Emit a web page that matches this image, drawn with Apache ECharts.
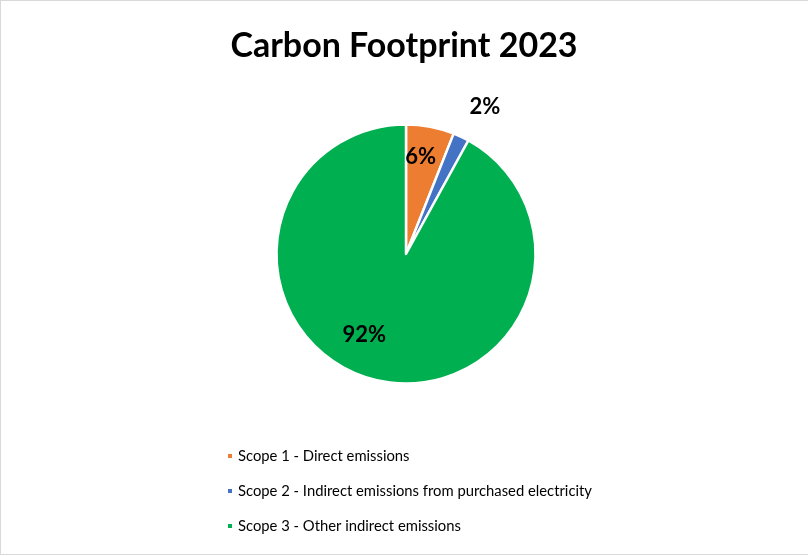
<!DOCTYPE html>
<html>
<head>
<meta charset="utf-8">
<script src="https://cdn.jsdelivr.net/npm/echarts@6/dist/echarts.min.js"></script>
<style>
  html, body { margin: 0; padding: 0; background: #fff; overflow: hidden; }
  #chart { width: 808px; height: 556px; position: absolute; left: 0; top: 0; }
  #frame { position: absolute; left: 0; top: 0; width: 812px; height: 555px; box-sizing: border-box; border: 1px solid #d9d9d9; pointer-events: none; }
</style>
</head>
<body>
<div id="chart"></div>
<div id="frame"></div>
<script>
// Emission shares by scope (percent of total)
const categories = [
  'Scope 1 - Direct emissions',
  'Scope 2 - Indirect emissions from purchased electricity',
  'Scope 3 - Other indirect emissions'
];
const shares = [6, 2, 92];
const colors = ['#ED7D31', '#4472C4', '#00B050'];
// label nudges so the percentages sit where they read best
const labelOffsets = [[2, -31], [50, -86], [-25, 15]];

const FONT = 'Lato, "Open Sans", sans-serif';

const chart = echarts.init(document.getElementById('chart'), null, { renderer: 'canvas' });

const data = categories.map((name, i) => ({
  name: name,
  value: shares[i],
  itemStyle: { color: colors[i] },
  label: { offset: labelOffsets[i] }
}));

chart.setOption({
  animation: false,
  backgroundColor: '#ffffff',
  title: {
    text: 'Carbon Footprint 2023',
    left: 'center',
    top: 24,
    textStyle: { fontFamily: FONT, fontWeight: 'bold', fontSize: 34, color: '#000' }
  },
  legend: {
    orient: 'vertical',
    left: 221,
    top: 443,
    icon: 'rect',
    itemWidth: 6,
    itemHeight: 6,
    itemGap: 19,
    textStyle: { fontFamily: FONT, fontSize: 14.8, color: '#000', lineHeight: 16 },
    data: categories
  },
  series: [{
    type: 'pie',
    center: [406, 254],
    radius: [0, 129.5],
    startAngle: 90,
    clockwise: true,
    silent: true,
    itemStyle: { borderColor: '#ffffff', borderWidth: 2.5 },
    label: {
      show: true,
      position: 'inside',
      formatter: '{c}%',
      fontFamily: FONT,
      fontWeight: 'bold',
      fontSize: 22,
      color: '#000'
    },
    labelLine: { show: false },
    data: data
  }]
});
</script>
</body>
</html>
